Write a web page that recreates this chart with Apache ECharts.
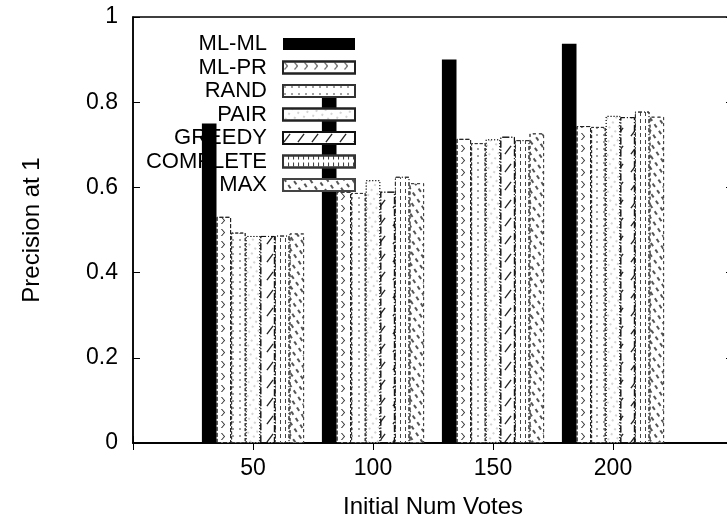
<!DOCTYPE html>
<html>
<head>
<meta charset="utf-8">
<script src="https://cdn.jsdelivr.net/npm/echarts@6/dist/echarts.min.js"></script>
<style>
  html, body { margin: 0; padding: 0; background: #fff; }
  #chart { width: 727px; height: 520px; }
</style>
</head>
<body>
<div id="chart"></div>
<script>
// categories on x (gnuplot puts one empty slot before and after)
var categories = ['50', '100', '150', '200'];
var seriesNames = ['ML-ML', 'ML-PR', 'RAND', 'PAIR', 'GREEDY', 'COMPLETE', 'MAX'];
var yTicks = [0, 0.2, 0.4, 0.6, 0.8, 1];

var mlml = [0.75, 0.815, 0.9, 0.937];
var mlpr = [0.531, 0.59, 0.714, 0.744];
var rand = [0.494, 0.587, 0.704, 0.742];
var pair = [0.486, 0.617, 0.713, 0.768];
var greedy = [0.486, 0.59, 0.719, 0.765];
var complete = [0.487, 0.625, 0.711, 0.778];
var max = [0.492, 0.61, 0.727, 0.766];

var FONT = '"Liberation Sans", Arial, Helvetica, sans-serif';

var myChart = echarts.init(document.getElementById('chart'));

var xData = [''].concat(categories, ['']);
function pad(arr) {
  return ['-'].concat(arr, ['-']);
}

// fill patterns, gnuplot style (dashed borders + sparse marks)
var looks = [
  { color: '#000', border: '#000', borderType: 'solid', decal: null },
  { color: '#fff', border: '#222', borderType: [4, 2],
    decal: { symbol: 'path://M0,0L2,0L7,6L2,12L0,12L5,6Z', symbolSize: 0.8, color: '#333',
             dashArrayX: [6, 4], dashArrayY: [9, 3] } },
  { color: '#fff', border: '#333', borderType: [3, 2],
    decal: { symbol: 'diamond', symbolSize: 0.5, color: '#444',
             dashArrayX: [4, 3], dashArrayY: [4, 3] } },
  { color: '#fff', border: '#222', borderType: [1, 2],
    decal: { symbol: 'rect', symbolSize: 0.5, color: '#555',
             dashArrayX: [2, 5], dashArrayY: [2, 4], rotation: 0.6 } },
  { color: '#fff', border: '#111', borderType: [7, 2, 1, 2],
    decal: { symbol: 'path://M0,12L9,0L10.5,1L1.5,13Z', symbolSize: 0.9, color: '#222',
             dashArrayX: [8, 6], dashArrayY: [12, 6] } },
  { color: '#fff', border: '#333', borderType: [4, 2, 1, 2],
    decal: { symbol: 'rect', symbolSize: 1, color: '#444',
             dashArrayX: [1, 4], dashArrayY: [4, 3] } },
  { color: '#fff', border: '#444', borderType: [3, 3],
    decal: { symbol: 'rect', symbolSize: 1, color: '#555',
             dashArrayX: [1.3, 5], dashArrayY: [4, 4], rotation: -0.6 } }
];
var values = [mlml, mlpr, rand, pair, greedy, complete, max];

var series = seriesNames.map(function (name, i) {
  var lk = looks[i];
  var itemStyle = {
    color: lk.color,
    borderColor: lk.border,
    borderWidth: i === 0 ? 0 : 1,
    borderType: lk.borderType
  };
  if (lk.decal) itemStyle.decal = lk.decal;
  return {
    name: name,
    type: 'bar',
    barWidth: 14.6,
    barGap: '0%',
    data: pad(values[i]),
    itemStyle: itemStyle,
    emphasis: { disabled: true }
  };
});

var option = {
  animation: false,
  textStyle: { fontFamily: FONT },
  grid: {
    left: 133,
    right: -6,
    top: 17,
    bottom: 77,
    outerBoundsMode: 'none',
    containLabel: false,
    show: true,
    borderColor: '#000',
    borderWidth: 1.5,
    backgroundColor: 'transparent'
  },
  legend: {
    orient: 'vertical',
    align: 'right',
    right: 366,
    top: 28,
    icon: 'rect',
    itemWidth: 72,
    itemHeight: 12,
    itemGap: 1.5,
    selectedMode: false,
    textStyle: {
      fontFamily: FONT,
      fontSize: 22,
      lineHeight: 20,
      color: '#000',
      padding: [0, 11, 0, 0]
    },
    data: seriesNames
  },
  xAxis: [{
    type: 'category',
    data: xData,
    boundaryGap: false,
    name: 'Initial Num Votes',
    nameLocation: 'middle',
    nameGap: 52,
    nameTextStyle: { fontFamily: FONT, fontSize: 24, color: '#000' },
    axisLine: { lineStyle: { color: '#000', width: 1.5 } },
    axisTick: { inside: true, length: 7, lineStyle: { color: '#000' } },
    axisLabel: { fontFamily: FONT, fontSize: 23, color: '#000', margin: 14 },
    splitLine: { show: false }
  }, {
    type: 'category',
    position: 'top',
    data: xData,
    boundaryGap: false,
    axisLine: { lineStyle: { color: '#000', width: 1.5 } },
    axisTick: { inside: true, length: 7, lineStyle: { color: '#000' } },
    axisLabel: { show: false },
    splitLine: { show: false }
  }],
  yAxis: [{
    type: 'value',
    min: yTicks[0],
    max: yTicks[yTicks.length - 1],
    interval: 0.2,
    name: 'Precision at 1',
    nameLocation: 'middle',
    nameGap: 89,
    nameTextStyle: { fontFamily: FONT, fontSize: 24, color: '#000' },
    axisLine: { show: true, lineStyle: { color: '#000', width: 1.5 } },
    axisTick: { show: true, inside: true, length: 7, lineStyle: { color: '#000' } },
    axisLabel: { fontFamily: FONT, fontSize: 23, color: '#000', margin: 15 },
    splitLine: { show: false }
  }, {
    type: 'value',
    position: 'right',
    min: yTicks[0],
    max: yTicks[yTicks.length - 1],
    interval: 0.2,
    axisLine: { show: true, lineStyle: { color: '#000', width: 1.5 } },
    axisTick: { show: true, inside: true, length: 7, lineStyle: { color: '#000' } },
    axisLabel: { show: false },
    splitLine: { show: false }
  }],
  series: series
};

myChart.setOption(option, true);
window.addEventListener('resize', function () {
  myChart.resize();
});
</script>
</body>
</html>
